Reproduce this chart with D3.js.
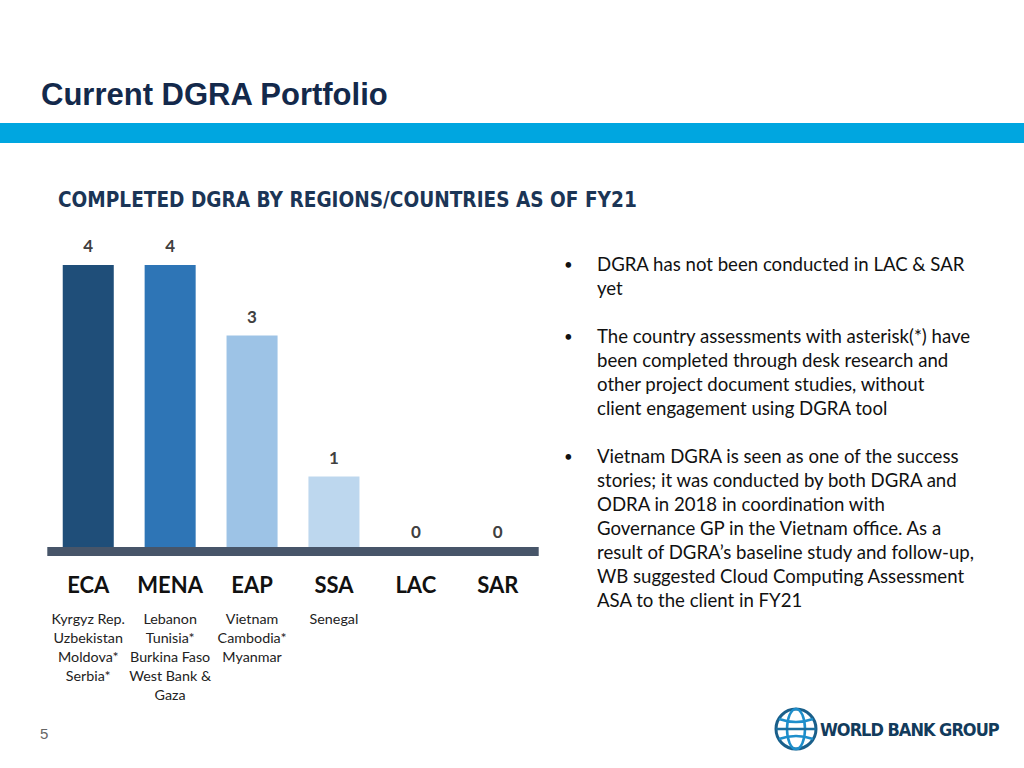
<!DOCTYPE html>
<html><head><meta charset="utf-8">
<script src="https://cdn.jsdelivr.net/npm/d3@7"></script>
<style>body{margin:0;background:#fff}svg{display:block}</style>
</head><body>
<script>
const categories = ["ECA","MENA","EAP","SSA","LAC","SAR"];
const values = [4,4,3,1,0,0];
const barColors = ["#1f4e79","#2e75b6","#9dc3e6","#bdd7ee","#bdd7ee","#bdd7ee"];
const countries = [
  ["Kyrgyz Rep.","Uzbekistan","Moldova*","Serbia*"],
  ["Lebanon","Tunisia*","Burkina Faso","West Bank &","Gaza"],
  ["Vietnam","Cambodia*","Myanmar"],
  ["Senegal"],[],[]
];
const bullets = [
  ["DGRA has not been conducted in LAC & SAR","yet"],
  ["The country assessments with asterisk(*) have","been completed through desk research and","other project document studies, without","client engagement using DGRA tool"],
  ["Vietnam DGRA is seen as one of the success","stories; it was conducted by both DGRA and","ODRA in 2018 in coordination with","Governance GP in the Vietnam office. As a","result of DGRA\u2019s baseline study and follow-up,","WB suggested Cloud Computing Assessment","ASA to the client in FY21"]
];

const svg = d3.select("body").append("svg").attr("width",1024).attr("height",768);

// header
svg.append("text").attr("x",41).attr("y",105).text("Current DGRA Portfolio")
  .attr("font-family","Liberation Sans, Arial, sans-serif").attr("font-weight","bold")
  .attr("font-size",31).attr("fill","#13294b");
svg.append("rect").attr("x",0).attr("y",123).attr("width",1024).attr("height",20).attr("fill","#00a6e0");

svg.append("text").attr("x",58).attr("y",207).text("COMPLETED DGRA BY REGIONS/COUNTRIES AS OF FY21")
  .attr("font-family","DejaVu Sans Condensed, DejaVu Sans, sans-serif").attr("font-weight","bold")
  .attr("font-size",20.6).attr("fill","#1b3556");

const x = d3.scaleBand().domain(categories).range([47.3,538.7]).paddingInner(0.377).paddingOuter(0.1885);
const y = d3.scaleLinear().domain([0,4]).range([547,265]);

const font = "Lato, 'Open Sans', sans-serif";

svg.append("g").selectAll("rect").data(categories).join("rect")
  .attr("x",d=>x(d)).attr("width",x.bandwidth())
  .attr("y",(d,i)=>y(values[i])).attr("height",(d,i)=>y(0)-y(values[i]))
  .attr("fill",(d,i)=>barColors[i]);

// axis line
svg.append("rect").attr("x",x.range()[0]).attr("y",y(0)).attr("width",x.range()[1]-x.range()[0]).attr("height",9).attr("fill","#475569");

svg.append("g").selectAll("text").data(categories).join("text")
  .attr("x",d=>x(d)+x.bandwidth()/2).attr("y",(d,i)=>values[i]===0 ? y(0)-9 : y(values[i])-13)
  .attr("text-anchor","middle").attr("font-family",font).attr("font-weight","bold")
  .attr("font-size",17).attr("fill","#404040").text((d,i)=>values[i]);

svg.append("g").selectAll("text").data(categories).join("text")
  .attr("x",d=>x(d)+x.bandwidth()/2).attr("y",593)
  .attr("text-anchor","middle").attr("font-family",font).attr("font-weight","bold")
  .attr("font-size",22).attr("fill","#111").text(d=>d);

categories.forEach((c,i)=>{
  const t = svg.append("text").attr("font-family",font).attr("font-size",14.3).attr("fill","#222").attr("text-anchor","middle");
  countries[i].forEach((n,j)=>{
    t.append("tspan").attr("x",x(c)+x.bandwidth()/2).attr("y",624+j*19).text(n);
  });
});

// bullets
let ly = 271;
bullets.forEach((b,bi)=>{
  svg.append("text").attr("x",564).attr("y",ly-1).attr("font-family",font).attr("font-size",15).attr("fill","#111").text("\u2022");
  b.forEach((line,j)=>{
    svg.append("text").attr("x",597).attr("y",ly+j*24).attr("font-family",font).attr("font-size",18.6).attr("fill","#111").text(line);
  });
  ly += b.length*24 + 24;
});

svg.append("text").attr("x",40).attr("y",739).text("5").attr("font-family","Liberation Sans, Arial, sans-serif")
  .attr("font-size",15).attr("fill","#666");

// logo
const lg = svg.append("g").attr("transform","translate(796,729)");
lg.append("circle").attr("r",20).attr("fill","none").attr("stroke","#1a5f8a").attr("stroke-width",3);
lg.append("ellipse").attr("rx",9).attr("ry",20).attr("fill","none").attr("stroke","#1d8ecb").attr("stroke-width",2.5);
lg.append("line").attr("x1",-20).attr("x2",20).attr("y1",0).attr("y2",0).attr("stroke","#1a6fa0").attr("stroke-width",2.5);
lg.append("path").attr("d","M-17,-10 Q0,-4 17,-10 M-17,10 Q0,4 17,10").attr("fill","none").attr("stroke","#1d8ecb").attr("stroke-width",2.5);
svg.append("text").attr("x",820).attr("y",736).text("WORLD BANK GROUP")
  .attr("font-family","DejaVu Sans Condensed, sans-serif").attr("font-weight","bold").attr("font-size",18)
  .attr("fill","#123b5c").attr("letter-spacing",-1.0);
</script>
</body></html>
